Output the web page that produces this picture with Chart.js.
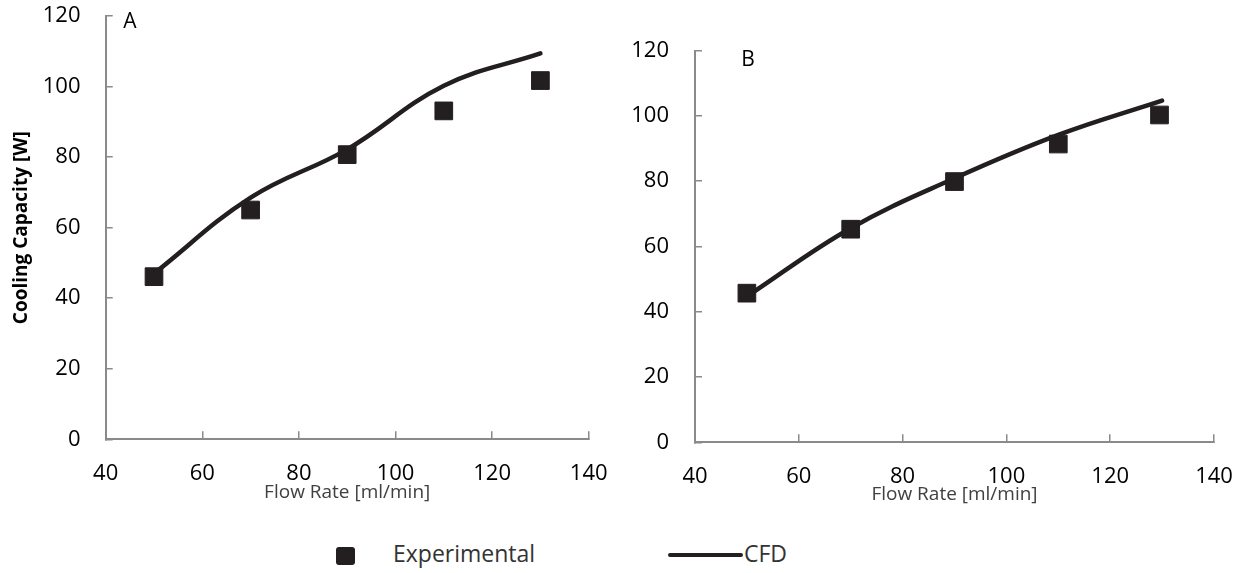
<!DOCTYPE html>
<html>
<head>
<meta charset="utf-8">
<script src="https://cdn.jsdelivr.net/npm/chart.js@4/dist/chart.umd.min.js"></script>
<style>
  html, body { margin: 0; padding: 0; background: #fff; }
  body { width: 1245px; height: 573px; position: relative; overflow: hidden; font-family: 'Open Sans', sans-serif; }
  #cA { position: absolute; left: 0; top: 0; }
  #cB { position: absolute; left: 620px; top: 0; }
  .lg { position: absolute; font-size: 23px; color: #333; line-height: 1; }
  .sq { position: absolute; left: 336px; top: 547px; width: 19px; height: 18px; background: #231f20; border-radius: 3px; }
  .ln { position: absolute; left: 668px; top: 553px; width: 75px; height: 4px; background: #231f20; border-radius: 2px; }
</style>
</head>
<body>
<canvas id="cA" width="620" height="520"></canvas>
<canvas id="cB" width="625" height="520"></canvas>
<div class="sq"></div>
<div class="lg" id="lgExp" style="left:393px; top:542px;"></div>
<div class="ln"></div>
<div class="lg" id="lgCfd" style="left:744px; top:542px;"></div>
<script>
// ---- data ----
const xTickValues = [40, 60, 80, 100, 120, 140];
const yTickValues = [0, 20, 40, 60, 80, 100, 120];
const flowRateA = [50, 70, 90, 110, 130];
const expA = [46.1, 65.0, 80.7, 93.1, 101.7];
const cfdA = [47.0, 68.5, 82.2, 100.2, 109.4];
const flowRateExpB = [50, 70, 90, 110, 129.5];
const flowRateCfdB = [50, 70, 90, 110, 130];
const expB = [45.7, 65.3, 79.9, 91.4, 100.3];
const cfdB = [44.7, 65.6, 80.9, 94.2, 104.7];
const seriesNames = ['Experimental', 'CFD'];
const panelNames = ['A', 'B'];
const xTitle = 'Flow Rate [ml/min]';
const yTitle = 'Cooling Capacity [W]';

Chart.defaults.font.family = "'Open Sans', sans-serif";
const AXIS = '#8a8a8a';
const INK = '#231f20';

document.getElementById('lgExp').textContent = seriesNames[0];
document.getElementById('lgCfd').textContent = seriesNames[1];

const panelLabel = {
  id: 'panelLabel',
  afterDraw(chart, args, opts) {
    const ctx = chart.ctx;
    ctx.save();
    ctx.font = "21px 'Open Sans', sans-serif";
    ctx.fillStyle = '#000';
    ctx.textAlign = 'center';
    ctx.textBaseline = 'alphabetic';
    ctx.fillText(opts.text, opts.x, opts.y);
    ctx.restore();
  }
};

function noPad(s) { s.paddingTop = 0; s.paddingBottom = 0; s.paddingLeft = 0; s.paddingRight = 0; }

function makeChart(id, xs, exp, xsLine, cfd, cfg) {
  return new Chart(document.getElementById(id), {
    data: {
      datasets: [
        {
          type: 'line', label: seriesNames[1],
          data: xsLine.map((x, i) => ({ x, y: cfd[i] })),
          borderColor: INK, borderWidth: 4.5, tension: 0.4,
          pointRadius: 0, fill: false, order: 0, borderCapStyle: 'round'
        },
        {
          type: 'scatter', label: seriesNames[0],
          data: xs.map((x, i) => ({ x, y: exp[i] })),
          pointStyle: 'rect', pointRadius: 12.5, backgroundColor: INK,
          borderColor: INK, borderWidth: 1, showLine: false, order: 1
        }
      ]
    },
    options: {
      responsive: false, animation: false, devicePixelRatio: 1,
      layout: { padding: { left: 0, top: cfg.top, right: cfg.right, bottom: 0 } },
      plugins: {
        legend: { display: false }, tooltip: { enabled: false },
        panelLabel: cfg.panel
      },
      scales: {
        x: {
          type: 'linear', min: 40, max: 140,
          afterBuildTicks: s => { s.ticks = xTickValues.map(v => ({ value: v })); },
          afterFit: s => { s.height = cfg.xh; noPad(s); },
          ticks: { padding: 29.5, color: '#000', font: { size: 22 } },
          grid: { drawOnChartArea: false, tickLength: -8, color: AXIS, lineWidth: 1.5 },
          border: { color: AXIS, width: 2 },
          title: { display: true, text: xTitle, color: '#404040', font: { size: 19 }, padding: { top: 0, bottom: cfg.xtp } }
        },
        y: {
          type: 'linear', min: 0, max: 120,
          afterBuildTicks: s => { s.ticks = yTickValues.map(v => ({ value: v })); },
          afterFit: s => { s.width = cfg.yw; noPad(s); },
          ticks: { padding: cfg.ypad, color: '#000', font: { size: 22 } },
          grid: { drawOnChartArea: false, tickLength: -7, color: AXIS, lineWidth: 1.5 },
          border: { color: AXIS, width: 2 },
          title: { display: cfg.ytitle, text: yTitle, color: '#000', font: { size: 19, weight: 'bold' }, padding: { top: 10.6, bottom: 0 } }
        }
      }
    },
    plugins: [panelLabel]
  });
}

makeChart('cA', flowRateA, expA, flowRateA, cfdA, {
  top: 16, right: 31.3, xh: 80.7, yw: 105.7, ypad: 32.2, xtp: 15.6, ytitle: true,
  panel: { text: panelNames[0], x: 130, y: 27.5 }
});
makeChart('cB', flowRateExpB, expB, flowRateCfdB, cfdB, {
  top: 50.7, right: 31, xh: 77.7, yw: 75, ypad: 33, xtp: 13.6, ytitle: false,
  panel: { text: panelNames[1], x: 128, y: 65.8 }
});
</script>
</body>
</html>
